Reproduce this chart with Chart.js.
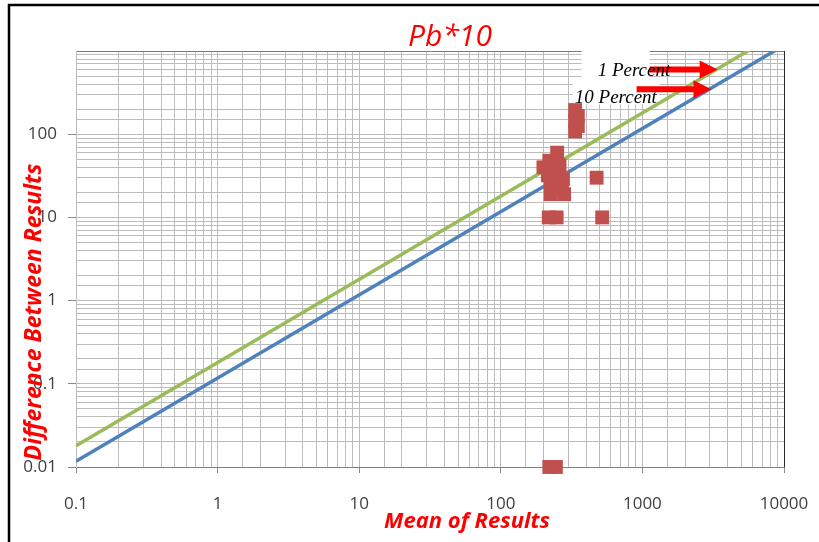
<!DOCTYPE html>
<html>
<head>
<meta charset="utf-8">
<script src="https://cdn.jsdelivr.net/npm/chart.js@4.4.1/dist/chart.umd.min.js"></script>
<style>
  html, body { margin: 0; padding: 0; background: #fff; }
  canvas { display: block; }
</style>
</head>
<body>
<canvas id="chart" width="819" height="542"></canvas>
<script>
// Paired results: mean of the two results vs. their difference
const pointMeans = [335, 335, 335, 350, 350,
                    250, 200, 220, 260, 275, 225, 280, 225, 250, 240, 215, 270, 255,
                    475, 520, 218, 248, 220, 245];
const pointDiffs = [195, 145, 108, 125, 165,
                    60, 40, 48, 42, 29, 27, 19, 19, 22, 36, 32, 24, 30,
                    30, 10, 10, 10, 0.01, 0.01];

// Reference lines (end points)
const lineMeans = [0.1, 10000];
const onePercentDiffs = [0.018, 1800];
const tenPercentDiffs = [0.0117, 1170];

// Tick labels shown on each log axis
const xTickLabels = ['0.1', '1', '10', '100', '1000', '10000'];
const yTickLabels = ['0.01', '0.1', '1', '10', '100'];

const toPoints = (xs, ys) => xs.map((v, i) => ({ x: v, y: ys[i] }));
const sameDecade = (a, b) => Math.abs(Math.log10(a) - Math.log10(b)) < 1e-6;
const labelFor = (list, value) => list.find(l => sameDecade(Number(l), value)) || '';

// Note boxes, labels and arrows placed in data units
const notes = [
  { text: '1 Percent', tx: 483, ty: 568, box: [372, 1125, null, 456], arrow: [1125, 3400, 600] },
  { text: '10 Percent', tx: 333, ty: 270, box: [321, 1321, 456, 229], arrow: [910, 3075, 346] }
];

function drawArrow(ctx, x0, x1, yy) {
  const shaft = 6, headL = 18, headH = 9;
  ctx.beginPath();
  ctx.moveTo(x0, yy - shaft / 2);
  ctx.lineTo(x1 - headL, yy - shaft / 2);
  ctx.lineTo(x1 - headL, yy - headH);
  ctx.lineTo(x1, yy);
  ctx.lineTo(x1 - headL, yy + headH);
  ctx.lineTo(x1 - headL, yy + shaft / 2);
  ctx.lineTo(x0, yy + shaft / 2);
  ctx.closePath();
  ctx.fill();
}

const overlay = {
  id: 'overlay',
  beforeDatasetsDraw(chart) {
    const { ctx, chartArea, scales: { x, y } } = chart;
    ctx.save();
    ctx.fillStyle = '#ffffff';
    for (const n of notes) {
      const [bx0, bx1, by0, by1] = n.box;
      const l = x.getPixelForValue(bx0), r = x.getPixelForValue(bx1);
      const t = by0 == null ? chartArea.top - 6 : y.getPixelForValue(by0);
      const b = y.getPixelForValue(by1);
      ctx.fillRect(l, t, r - l, b - t);
    }
    ctx.restore();
  },
  afterDatasetsDraw(chart) {
    const { ctx, scales: { x, y } } = chart;
    ctx.save();
    ctx.fillStyle = '#ff0000';
    for (const n of notes) {
      const [ax0, ax1, ay] = n.arrow;
      drawArrow(ctx, x.getPixelForValue(ax0), x.getPixelForValue(ax1), y.getPixelForValue(ay));
    }
    ctx.fillStyle = '#000000';
    ctx.font = 'italic 19px "Liberation Serif"';
    ctx.textAlign = 'left';
    ctx.textBaseline = 'middle';
    for (const n of notes) {
      ctx.fillText(n.text, x.getPixelForValue(n.tx), y.getPixelForValue(n.ty));
    }
    ctx.restore();
  },
  afterDraw(chart) {
    const { ctx } = chart;
    ctx.save();
    ctx.fillStyle = '#ff0000';
    ctx.textAlign = 'center';
    ctx.textBaseline = 'alphabetic';
    ctx.font = 'italic 30px "Open Sans"';
    ctx.fillText('Pb*10', 450, 46);
    ctx.textBaseline = 'middle';
    ctx.font = 'italic bold 22px "Open Sans"';
    ctx.fillText('Mean of Results', 467, 522);
    ctx.translate(34, 312);
    ctx.rotate(-Math.PI / 2);
    ctx.font = 'italic bold 23px "Open Sans"';
    ctx.fillText('Difference Between Results', 0, 0);
    ctx.restore();
    // outer frame
    ctx.save();
    ctx.strokeStyle = '#000000';
    ctx.lineWidth = 2.5;
    ctx.beginPath();
    ctx.moveTo(9, 545);
    ctx.lineTo(9, 5);
    ctx.lineTo(822, 5);
    ctx.stroke();
    ctx.restore();
  }
};

const gridGray = '#bcbcbc';

new Chart(document.getElementById('chart'), {
  type: 'scatter',
  data: {
    datasets: [
      {
        label: 'Results',
        data: toPoints(pointMeans, pointDiffs),
        pointStyle: 'rect',
        pointRadius: 9.8,
        pointHoverRadius: 9.8,
        backgroundColor: '#C0504D',
        borderWidth: 0,
        clip: false
      },
      {
        label: '1 Percent',
        data: toPoints(lineMeans, onePercentDiffs),
        showLine: true,
        pointRadius: 0,
        borderColor: '#9BBB59',
        borderWidth: 3.5
      },
      {
        label: '10 Percent',
        data: toPoints(lineMeans, tenPercentDiffs),
        showLine: true,
        pointRadius: 0,
        borderColor: '#4F81BD',
        borderWidth: 3.5
      }
    ]
  },
  options: {
    responsive: false,
    animation: false,
    layout: { padding: { left: 9, right: 35, top: 51, bottom: 0 } },
    plugins: {
      legend: { display: false },
      title: { display: false },
      tooltip: { enabled: false }
    },
    scales: {
      x: {
        type: 'logarithmic',
        min: 0.1,
        max: 10000,
        afterFit(scale) {
          scale.height = 75;
          scale.paddingLeft = 0;
          scale.paddingRight = 0;
        },
        border: { color: '#7f7f7f', width: 1 },
        grid: {
          color: ctx => (ctx.tick && sameDecade(ctx.tick.value, 10000)) ? '#2a2a2a' : gridGray,
          tickLength: 6,
          tickColor: ctx => labelFor(xTickLabels, ctx.tick.value) ? '#8a8a8a' : 'rgba(0,0,0,0)'
        },
        ticks: {
          autoSkip: false,
          maxRotation: 0,
          padding: 21,
          color: '#404040',
          font: { family: 'Open Sans', size: 17 },
          callback: value => labelFor(xTickLabels, value)
        }
      },
      y: {
        type: 'logarithmic',
        min: 0.01,
        max: 1000,
        afterFit(scale) {
          scale.width = 67;
          scale.paddingTop = 0;
          scale.paddingBottom = 0;
        },
        border: { color: gridGray, width: 1 },
        grid: {
          color: ctx => (ctx.tick && sameDecade(ctx.tick.value, 1000)) ? '#7a7a7a' : gridGray,
          tickLength: 8,
          tickColor: ctx => labelFor(yTickLabels, ctx.tick.value) ? '#8a8a8a' : 'rgba(0,0,0,0)'
        },
        ticks: {
          autoSkip: false,
          padding: 11,
          color: '#404040',
          font: { family: 'Open Sans', size: 17 },
          callback: value => labelFor(yTickLabels, value)
        }
      }
    }
  },
  plugins: [overlay]
});
</script>
</body>
</html>
